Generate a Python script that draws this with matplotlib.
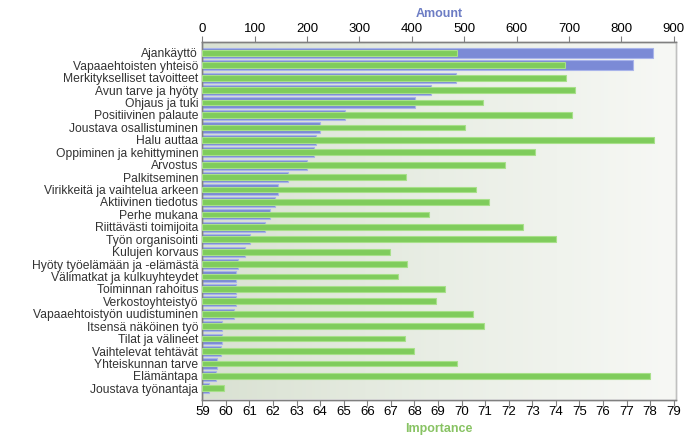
import numpy as np
import matplotlib
matplotlib.use("Agg")
import matplotlib.pyplot as plt
from matplotlib.colors import LinearSegmentedColormap

plt.rcParams["font.family"] = ["Liberation Sans", "DejaVu Sans"]

categories = [
    "Ajankäyttö", "Vapaaehtoisten yhteisö", "Merkitykselliset tavoitteet",
    "Avun tarve ja hyöty", "Ohjaus ja tuki", "Positiivinen palaute",
    "Joustava osallistuminen", "Halu auttaa", "Oppiminen ja kehittyminen",
    "Arvostus", "Palkitseminen", "Virikkeitä ja vaihtelua arkeen",
    "Aktiivinen tiedotus", "Perhe mukana", "Riittävästi toimijoita",
    "Työn organisointi", "Kulujen korvaus", "Hyöty työelämään ja -elämästä",
    "Välimatkat ja kulkuyhteydet", "Toiminnan rahoitus", "Verkostoyhteistyö",
    "Vapaaehtoistyön uudistuminen", "Itsensä näköinen työ", "Tilat ja välineet",
    "Vaihtelevat tehtävät", "Yhteiskunnan tarve", "Elämäntapa",
    "Joustava työnantaja",
]
amount = [860, 823, 484, 437, 406, 272, 224, 218, 214, 199, 163, 145, 138,
          130, 120, 92, 81, 68, 64, 64, 64, 61, 38, 38, 35, 29, 26, 13]
importance = [69.8, 74.4, 74.45, 74.8, 70.9, 74.7, 70.15, 78.15, 73.1, 71.85,
              67.65, 70.6, 71.15, 68.6, 72.6, 74.0, 66.95, 67.7, 67.3, 69.3,
              68.9, 70.5, 70.95, 67.6, 68.0, 69.8, 78.0, 59.9]

amount_ticks = list(range(0, 1000, 100))
importance_ticks = list(range(59, 80))

fig = plt.figure(figsize=(6.96, 4.4), dpi=100)
ax = fig.add_axes([202.3 / 696, 1 - 399.5 / 440, (676.3 - 202.3) / 696, (399.5 - 41.7) / 440])

n = len(categories)
y = np.arange(n)
ylim = (n - 1 + 0.9, -0.9)

# gradient background
cmap = LinearSegmentedColormap.from_list("bg", ["#d9e1d2", "#e9eee5", "#f7f8f5"])
grad = np.linspace(0, 1, 256).reshape(1, -1)

scale = 900 / (673.7 - 202.3)
amax = (676.3 - 202.3) * scale
ax.imshow(grad, aspect="auto", cmap=cmap, extent=[0, amax, ylim[0], ylim[1]], zorder=0)

ax.barh(y, amount, height=0.82, color="#7b8ad6", edgecolor="#a9b4ea", linewidth=0.8, zorder=2)
ax.set_xlim(0, amax)
ax.set_ylim(*ylim)

ax2 = ax.twiny()
imp_scale = 20 / (673.7 - 202.3)
ax2.set_xlim(59, 59 + (676.3 - 202.3) * imp_scale)
ax2.barh(y, [v - 59 for v in importance], left=59, height=0.46, color="#7fcc5c",
         edgecolor="#a8e08a", linewidth=0.8, zorder=3)
ax2.set_ylim(*ylim)

# axis placement (after twiny, which resets the parent's ticks)
ax.xaxis.tick_top()
ax.xaxis.set_label_position("top")
ax.set_xticks(amount_ticks)
ax.set_xlabel("Amount", color="#6c7cc4", fontweight="bold", fontsize=9, labelpad=4)

ax2.xaxis.tick_bottom()
ax2.xaxis.set_label_position("bottom")
ax2.set_xticks(importance_ticks)
ax2.set_xlabel("Importance", color="#88c363", fontweight="bold", fontsize=9, labelpad=3)

ax.set_yticks(y)
ax.set_yticklabels(categories, fontsize=8.7, color="#333333")
ax.tick_params(axis="y", length=0, pad=3)
ax.tick_params(axis="x", length=4, width=0.8, color="#808080", labelsize=9.5, pad=1)
ax2.tick_params(axis="x", length=4, width=0.8, color="#808080", labelsize=9.5, pad=1)

for a in (ax, ax2):
    a.spines["left"].set_color("#808080")
    a.spines["top"].set_color("#808080")
    a.spines["bottom"].set_color("#808080")
    a.spines["right"].set_color("#c0c0c0")
    for s in a.spines.values():
        s.set_linewidth(1.0)

fig.savefig("out.png", dpi=100)
